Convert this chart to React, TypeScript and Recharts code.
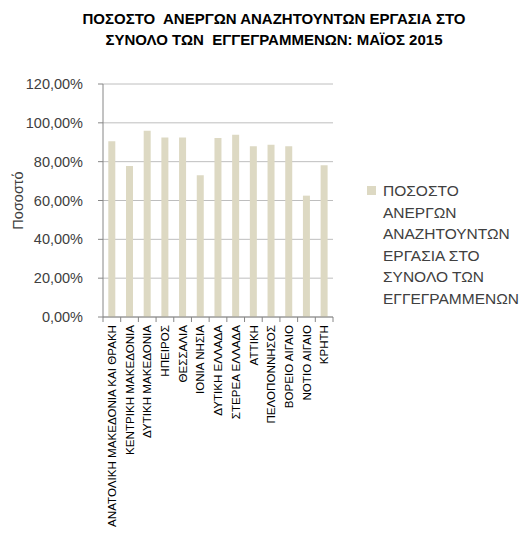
import { BarChart, Bar, XAxis, YAxis, CartesianGrid } from 'recharts';

const regions = [
  'ΑΝΑΤΟΛΙΚΗ ΜΑΚΕΔΟΝΙΑ ΚΑΙ ΘΡΑΚΗ',
  'ΚΕΝΤΡΙΚΗ ΜΑΚΕΔΟΝΙΑ',
  'ΔΥΤΙΚΗ ΜΑΚΕΔΟΝΙΑ',
  'ΗΠΕΙΡΟΣ',
  'ΘΕΣΣΑΛΙΑ',
  'ΙΟΝΙΑ ΝΗΣΙΑ',
  'ΔΥΤΙΚΗ ΕΛΛΑΔΑ',
  'ΣΤΕΡΕΑ ΕΛΛΑΔΑ',
  'ΑΤΤΙΚΗ',
  'ΠΕΛΟΠΟΝΝΗΣΟΣ',
  'ΒΟΡΕΙΟ ΑΙΓΑΙΟ',
  'ΝΟΤΙΟ ΑΙΓΑΙΟ',
  'ΚΡΗΤΗ',
];
const shares = [0.905, 0.778, 0.959, 0.925, 0.925, 0.730, 0.922, 0.939, 0.879, 0.887, 0.879, 0.625, 0.781];
const yTicks = [0, 0.2, 0.4, 0.6, 0.8, 1.0, 1.2];

const seriesName = 'ΠΟΣΟΣΤΟ ΑΝΕΡΓΩΝ ΑΝΑΖΗΤΟΥΝΤΩΝ ΕΡΓΑΣΙΑ ΣΤΟ ΣΥΝΟΛΟ ΤΩΝ ΕΓΓΕΓΡΑΜΜΕΝΩΝ';
const titleLines = ['ΠΟΣΟΣΤΟ  ΑΝΕΡΓΩΝ ΑΝΑΖΗΤΟΥΝΤΩΝ ΕΡΓΑΣΙΑ ΣΤΟ', 'ΣΥΝΟΛΟ ΤΩΝ  ΕΓΓΕΓΡΑΜΜΕΝΩΝ: ΜΑΪΟΣ 2015'];

const data = regions.map((region, i) => ({ region, value: shares[i] }));

const FONT = '"Liberation Sans", Arial, sans-serif';
const BAR = '#DDD9C3';
const W = 520;
const H = 541;
const LEFT = 103;
const RIGHT = 187;
const STEP = (W - LEFT - RIGHT) / regions.length;

const pct = (v: number) => (v * 100).toFixed(2).replace('.', ',') + '%';

function RegionTick(props: any) {
  const { x, y, payload, index } = props;
  return (
    <g>
      <line x1={x - STEP / 2} y1={y - 8} x2={x - STEP / 2} y2={y - 3} stroke="#868686" />
      {index === regions.length - 1 && (
        <line x1={x + STEP / 2} y1={y - 8} x2={x + STEP / 2} y2={y - 3} stroke="#868686" />
      )}
      <text
        transform={`translate(${x},${y}) rotate(-90)`}
        textAnchor="end"
        dy="0.36em"
        fontSize={11.6}
        fill="#000"
        fontFamily={FONT}
      >
        {payload.value}
      </text>
    </g>
  );
}

export default function App() {
  return (
    <div style={{ position: 'absolute', left: 0, top: 0, width: W, height: H, background: '#fff', fontFamily: FONT }}>
      <div style={{ position: 'absolute', left: 0, top: 8, width: 548, textAlign: 'center', fontWeight: 'bold', fontSize: 15, lineHeight: '21px', color: '#000' }}>
        {titleLines.map((t) => (
          <div key={t} style={{ whiteSpace: 'pre' }}>{t}</div>
        ))}
      </div>
      <BarChart width={W} height={H} data={data} margin={{ top: 84, right: RIGHT, bottom: 0, left: 0 }} barCategoryGap="30%">
        <CartesianGrid vertical={false} stroke="#BEBEBE" />
        <XAxis
          dataKey="region"
          interval={0}
          height={H - 84 - 233}
          stroke="#868686"
          tickLine={false}
          tick={<RegionTick />}
        />
        <YAxis
          domain={[0, 1.2]}
          ticks={yTicks}
          tickFormatter={pct}
          width={LEFT}
          stroke="#868686"
          tickSize={5}
          tick={{ fill: '#404040', fontSize: 14.5, fontFamily: FONT, dx: -13 }}
          label={{ value: 'Ποσοστό', angle: -90, position: 'insideLeft', offset: 18, style: { textAnchor: 'middle', fill: '#404040', fontSize: 14.5, fontFamily: FONT } }}
        />
        <Bar dataKey="value" name={seriesName} fill={BAR} isAnimationActive={false} />
      </BarChart>
      <div style={{ position: 'absolute', left: 367, top: 180, display: 'flex', alignItems: 'flex-start' }}>
        <div style={{ width: 9, height: 9, background: BAR, marginTop: 6, marginRight: 7, flexShrink: 0 }} />
        <div style={{ width: 140, fontSize: 15.5, lineHeight: '21.5px', color: '#404040' }}>{seriesName}</div>
      </div>
    </div>
  );
}
